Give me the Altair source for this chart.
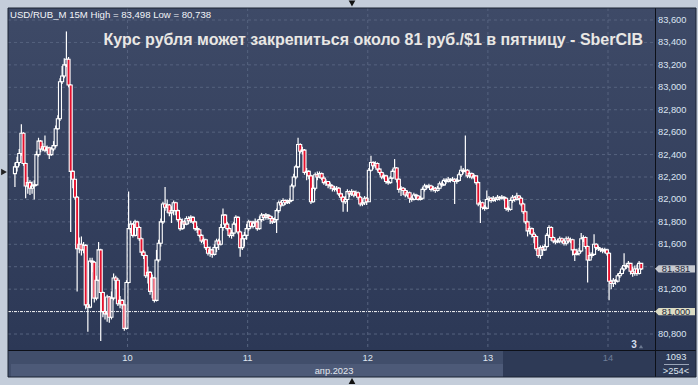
import altair as alt
import numpy as np
import pandas as pd

# ---------------- data ----------------
day_labels = ["10", "11", "12", "13", "14"]
day_starts = [52.5, 108.5, 164.5, 220.5, 276.5]   # candle-index boundaries of the days
month_label = "апр.2023"
price_ticks = [80.8, 81.0, 81.2, 81.4, 81.6, 81.8, 82.0, 82.2, 82.4, 82.6, 82.8, 83.0, 83.2, 83.4, 83.6]
level_price = 81.0
first_open = 82.23
bars_total = "1093"
bars_visible = ">254<"

close_d07 = [82.29, 82.33, 82.41, 82.59, 82.32, 82.12, 82.15, 82.10, 82.12, 82.13, 82.40, 82.52, 82.45, 82.47, 82.44, 82.46, 82.40, 82.45, 82.48, 82.63, 82.72, 83.05, 83.10, 83.20, 83.25, 83.02, 82.25, 82.18, 82.02, 81.56, 81.60, 81.55, 81.59, 81.06, 81.04, 81.45, 81.44, 81.12, 81.28, 81.55, 81.17, 81.00, 80.98, 81.13, 80.95, 81.12, 81.30, 81.28, 81.07, 81.10, 81.06, 80.85, 81.26]
high_d07 = [82.33, 82.38, 82.45, 82.67, 82.60, 82.33, 82.20, 82.17, 82.16, 82.17, 82.43, 82.55, 82.53, 82.50, 82.57, 82.48, 82.47, 82.47, 82.52, 82.66, 82.75, 83.08, 83.19, 83.26, 83.498, 83.27, 83.03, 82.26, 82.18, 82.03, 81.66, 81.67, 81.62, 81.60, 81.08, 81.48, 81.48, 81.45, 81.32, 81.62, 81.56, 81.18, 81.10, 81.15, 81.14, 81.18, 81.34, 81.32, 81.30, 81.14, 81.11, 81.07, 81.28]
low_d07 = [82.11, 82.25, 82.30, 82.39, 82.30, 82.01, 82.05, 82.04, 82.05, 82.00, 82.12, 82.38, 82.42, 82.43, 82.42, 82.41, 82.36, 82.39, 82.43, 82.46, 82.62, 82.70, 83.03, 83.08, 83.18, 83.00, 81.71, 82.10, 82.00, 81.18, 81.52, 81.50, 81.52, 81.02, 80.82, 81.03, 81.35, 81.08, 81.10, 81.27, 80.738, 80.95, 80.93, 80.91, 80.90, 80.93, 81.10, 81.20, 81.05, 81.03, 81.02, 80.83, 80.84]

close_d10 = [81.74, 81.78, 81.68, 81.80, 81.75, 81.65, 81.53, 81.50, 81.32, 81.35, 81.18, 81.30, 81.10, 81.46, 81.61, 81.80, 81.96, 81.93, 81.95, 81.88, 81.90, 81.97, 81.90, 81.82, 81.74, 81.80, 81.78, 81.83, 81.81, 81.84, 81.80, 81.74, 81.73, 81.68, 81.63, 81.64, 81.57, 81.52, 81.55, 81.51, 81.57, 81.63, 81.60, 81.75, 81.86, 81.78, 81.74, 81.68, 81.70, 81.78, 81.84, 81.71, 81.57, 81.65, 81.68, 81.74]
high_d10 = [82.07, 81.81, 81.79, 81.82, 81.81, 81.76, 81.66, 81.55, 81.51, 81.40, 81.36, 81.33, 81.31, 81.55, 81.64, 81.83, 81.98, 82.11, 82.00, 81.96, 81.94, 81.99, 81.98, 81.91, 81.84, 81.83, 81.82, 81.85, 81.85, 81.86, 81.85, 81.81, 81.76, 81.74, 81.69, 81.66, 81.65, 81.58, 81.58, 81.56, 81.60, 81.65, 81.65, 81.78, 81.92, 81.87, 81.80, 81.75, 81.73, 81.80, 81.86, 81.85, 81.72, 81.68, 81.71, 81.78]
low_d10 = [81.25, 81.70, 81.66, 81.67, 81.72, 81.63, 81.50, 81.47, 81.30, 81.25, 81.15, 81.12, 81.08, 81.09, 81.44, 81.58, 81.78, 81.90, 81.88, 81.85, 81.79, 81.86, 81.86, 81.80, 81.72, 81.73, 81.74, 81.77, 81.78, 81.79, 81.78, 81.72, 81.70, 81.66, 81.61, 81.60, 81.55, 81.50, 81.49, 81.48, 81.50, 81.53, 81.55, 81.59, 81.72, 81.76, 81.72, 81.66, 81.65, 81.67, 81.76, 81.69, 81.49, 81.55, 81.58, 81.64]

close_d11 = [81.80, 81.76, 81.79, 81.80, 81.74, 81.82, 81.86, 81.84, 81.86, 81.85, 81.83, 81.80, 81.82, 81.90, 81.97, 81.95, 81.99, 81.97, 81.98, 81.99, 82.12, 82.20, 82.29, 82.49, 82.43, 82.44, 82.24, 82.25, 82.21, 81.98, 82.10, 82.22, 82.20, 82.23, 82.19, 82.15, 82.16, 82.13, 82.12, 82.10, 82.09, 82.10, 82.05, 82.02, 81.98, 82.00, 82.07, 82.05, 82.07, 82.04, 82.06, 82.02, 81.96, 81.97, 82.01, 81.98]
high_d11 = [81.82, 81.81, 81.81, 81.83, 81.82, 81.85, 81.88, 81.87, 81.88, 81.87, 81.86, 81.85, 81.84, 81.92, 81.99, 81.99, 82.01, 82.00, 82.00, 82.01, 82.14, 82.23, 82.31, 82.55, 82.50, 82.47, 82.45, 82.28, 82.26, 82.22, 82.13, 82.24, 82.25, 82.25, 82.24, 82.21, 82.18, 82.16, 82.15, 82.13, 82.12, 82.12, 82.11, 82.06, 82.03, 82.03, 82.09, 82.08, 82.09, 82.08, 82.08, 82.07, 82.03, 82.00, 82.03, 82.02]
low_d11 = [81.72, 81.74, 81.74, 81.76, 81.72, 81.73, 81.80, 81.81, 81.82, 81.82, 81.78, 81.78, 81.79, 81.70, 81.88, 81.93, 81.94, 81.95, 81.96, 81.96, 81.98, 82.10, 82.18, 82.28, 82.41, 82.40, 82.22, 82.17, 82.18, 81.96, 81.97, 82.08, 82.17, 82.19, 82.17, 82.13, 82.12, 82.10, 82.09, 82.07, 82.07, 82.07, 82.03, 81.99, 81.89, 81.96, 81.89, 82.02, 82.03, 82.02, 82.03, 82.00, 81.94, 81.94, 81.95, 81.95]

close_d12 = [82.26, 82.33, 82.30, 82.32, 82.27, 82.24, 82.20, 82.21, 82.16, 82.15, 82.19, 82.25, 82.28, 82.18, 82.09, 82.10, 82.08, 82.04, 82.06, 82.01, 82.00, 82.04, 82.03, 82.00, 82.01, 82.09, 82.12, 82.11, 82.12, 82.09, 82.10, 82.08, 82.10, 82.14, 82.13, 82.17, 82.16, 82.18, 82.17, 82.18, 82.16, 82.17, 82.22, 82.26, 82.25, 82.26, 82.21, 82.23, 82.20, 82.21, 82.15, 81.96, 81.97, 81.93, 81.92, 82.00]
high_d12 = [82.28, 82.39, 82.34, 82.34, 82.33, 82.28, 82.25, 82.23, 82.22, 82.18, 82.21, 82.27, 82.36, 82.29, 82.19, 82.12, 82.11, 82.10, 82.08, 82.07, 82.03, 82.06, 82.05, 82.04, 82.03, 82.11, 82.14, 82.13, 82.14, 82.13, 82.12, 82.11, 82.12, 82.16, 82.16, 82.19, 82.19, 82.20, 82.19, 82.20, 82.19, 82.19, 82.24, 82.30, 82.28, 82.57, 82.27, 82.25, 82.24, 82.23, 82.21, 82.16, 81.99, 81.98, 81.95, 82.08]
low_d12 = [81.98, 82.25, 82.27, 82.28, 82.25, 82.22, 82.18, 82.18, 82.14, 82.13, 82.14, 82.18, 82.24, 82.15, 82.06, 82.03, 82.04, 82.02, 82.02, 81.97, 81.98, 81.99, 82.00, 81.99, 81.99, 82.00, 82.07, 82.09, 82.10, 82.07, 82.07, 82.06, 82.07, 82.09, 82.11, 82.12, 82.14, 82.15, 82.15, 82.16, 81.96, 82.14, 82.16, 82.20, 82.23, 82.24, 82.19, 82.19, 82.18, 82.18, 82.13, 81.94, 81.79, 81.91, 81.90, 81.91]

close_d13 = [82.01, 81.99, 82.01, 82.00, 82.02, 82.01, 82.02, 82.01, 81.92, 81.91, 81.99, 82.02, 82.00, 82.03, 82.01, 81.96, 81.89, 81.80, 81.72, 81.74, 81.69, 81.67, 81.56, 81.50, 81.57, 81.55, 81.58, 81.68, 81.75, 81.66, 81.63, 81.62, 81.63, 81.65, 81.63, 81.61, 81.65, 81.63, 81.64, 81.55, 81.51, 81.52, 81.54, 81.65, 81.66, 81.58, 81.46, 81.50, 81.51, 81.60, 81.57, 81.56, 81.55, 81.54, 81.55, 81.52]
high_d13 = [82.03, 82.02, 82.03, 82.02, 82.04, 82.03, 82.04, 82.03, 82.02, 81.94, 82.01, 82.04, 82.03, 82.06, 82.04, 82.02, 81.97, 81.90, 81.81, 81.76, 81.75, 81.71, 81.68, 81.57, 81.59, 81.59, 81.60, 81.70, 81.77, 81.76, 81.67, 81.65, 81.65, 81.67, 81.66, 81.64, 81.67, 81.67, 81.66, 81.65, 81.56, 81.56, 81.57, 81.70, 81.68, 81.67, 81.59, 81.53, 81.53, 81.69, 81.61, 81.59, 81.57, 81.57, 81.57, 81.56]
low_d13 = [81.98, 81.97, 81.98, 81.98, 81.99, 81.99, 82.00, 81.99, 81.90, 81.89, 81.90, 81.97, 81.98, 81.99, 81.99, 81.94, 81.87, 81.78, 81.67, 81.69, 81.66, 81.61, 81.54, 81.48, 81.47, 81.50, 81.54, 81.57, 81.66, 81.63, 81.61, 81.60, 81.61, 81.61, 81.61, 81.59, 81.59, 81.61, 81.61, 81.50, 81.45, 81.50, 81.50, 81.53, 81.62, 81.56, 81.26, 81.45, 81.48, 81.50, 81.55, 81.54, 81.53, 81.52, 81.52, 81.50]

close_d14 = [81.27, 81.25, 81.28, 81.27, 81.32, 81.34, 81.38, 81.41, 81.40, 81.43, 81.36, 81.34, 81.38, 81.34, 81.43, 81.381]
high_d14 = [81.53, 81.28, 81.30, 81.29, 81.34, 81.36, 81.40, 81.52, 81.43, 81.45, 81.43, 81.40, 81.41, 81.42, 81.45, 81.43]
low_d14 = [81.10, 81.20, 81.22, 81.24, 81.26, 81.30, 81.33, 81.36, 81.38, 81.39, 81.33, 81.31, 81.32, 81.32, 81.33, 81.37]

closes = close_d07 + close_d10 + close_d11 + close_d12 + close_d13 + close_d14
highs = high_d07 + high_d10 + high_d11 + high_d12 + high_d13 + high_d14
lows = low_d07 + low_d10 + low_d11 + low_d12 + low_d13 + low_d14
opens = [first_open] + closes[:-1]

df = pd.DataFrame({"i": np.arange(len(closes)), "open": opens, "close": closes,
                   "high": highs, "low": lows})
df["top"] = df[["open", "close"]].max(axis=1)
df["bot"] = df[["open", "close"]].min(axis=1)
df["high"] = np.maximum(df["high"], df["top"])
df["low"] = np.minimum(df["low"], df["bot"])
last_price = closes[-1]


def ru(v):
    return f"{v:.3f}".replace(".", ",")


header = f"USD/RUB_M 15M High = {ru(max(highs))} Low = {ru(min(lows))}"
title = "Курс рубля может закрепиться около 81 руб./$1 в пятницу - SberCIB"

# ---------------- styling ----------------
FONT = "Liberation Sans"
W, H = 647, 342
RIGHT_W = 40
STRIP_H = 27
RED = "#e5102d"
GRID = "#56637f"

xs = alt.Scale(domain=[-0.9, 296.08], nice=False, zero=False)
ys = alt.Scale(domain=[80.6575, 83.707], nice=False, zero=False)

one = pd.DataFrame({"a": [0]})

flag_vals = [last_price, level_price]
axis_vals = [v for v in price_ticks if all(abs(v - f) > 0.08 for f in flag_vals)]
ylab_df = pd.DataFrame({"v": axis_vals, "lbl": [ru(v) for v in axis_vals]})
xlab_df = pd.DataFrame({"v": day_starts, "lbl": day_labels,
                        "c": ["#dfe6f0"] * (len(day_labels) - 1) + ["#6f7d98"]})


def vrect(x, x2, y, y2, **kw):
    return alt.Chart(one).mark_rect(**kw).encode(
        x=alt.value(x), x2=alt.value(x2), y=alt.value(y), y2=alt.value(y2))


bg = vrect(0, W + RIGHT_W + 1, 0, H, color=alt.Gradient(
    gradient="linear",
    stops=[alt.GradientStop(color="#3e4a67", offset=0),
           alt.GradientStop(color="#2c3856", offset=1)],
    x1=0, x2=0, y1=0, y2=1))

strip_a = vrect(0, 495, H, H + STRIP_H, color="#414e6b")
strip_b = vrect(3, 495, H + 14, H + STRIP_H, color="#4d5a78")
strip_c = vrect(495, W, H, H + STRIP_H, color="#2e3a56")
strip_d = vrect(W, W + RIGHT_W + 1, H, H + STRIP_H, color="#2e3a56")

hgrid = alt.Chart(pd.DataFrame({"v": price_ticks})).mark_rule(
    color=GRID, strokeDash=[3, 3], strokeWidth=1).encode(
    y=alt.Y("v:Q", scale=ys, axis=None), x=alt.value(0), x2=alt.value(W))
vgrid = alt.Chart(pd.DataFrame({"v": day_starts})).mark_rule(
    color=GRID, strokeDash=[3, 3], strokeWidth=1).encode(
    x=alt.X("v:Q", scale=xs, axis=None), y=alt.value(0), y2=alt.value(H))

level = alt.Chart(pd.DataFrame({"v": [level_price]})).mark_rule(
    color="#f4f4f4", strokeDash=[3, 1, 1, 1], strokeWidth=1).encode(
    y=alt.Y("v:Q", scale=ys, axis=None), x=alt.value(0), x2=alt.value(W))

base = alt.Chart(df)
wick_hi = base.mark_rule(color="white", strokeWidth=1.2).encode(
    x=alt.X("i:Q", scale=xs, axis=None), y=alt.Y("high:Q", scale=ys, axis=None), y2="top:Q")
wick_lo = base.mark_rule(color="white", strokeWidth=1.2).encode(
    x=alt.X("i:Q", scale=xs, axis=None), y=alt.Y("bot:Q", scale=ys, axis=None), y2="low:Q")
bodies = base.mark_bar(size=3, stroke="white", strokeWidth=1.1).encode(
    x=alt.X("i:Q", scale=xs, axis=None),
    y=alt.Y("open:Q", scale=ys, axis=None),
    y2="close:Q",
    fill=alt.condition("datum.close < datum.open", alt.value(RED), alt.value("transparent")))

hline = alt.Chart(one).mark_rule(color="#0d1018", strokeWidth=1).encode(
    x=alt.value(0), x2=alt.value(W + RIGHT_W + 1), y=alt.value(H + 0.5))
vline = alt.Chart(one).mark_rule(color="#0d1018", strokeWidth=1).encode(
    x=alt.value(W + 0.5), y=alt.value(0), y2=alt.value(H + STRIP_H))
frame = vrect(0, W + RIGHT_W + 1, 0, H + STRIP_H, fill="transparent",
              stroke="#1b2233", strokeWidth=1)

# price-axis labels and day labels, placed by the shared scales
ylabels = alt.Chart(ylab_df).mark_text(font=FONT, fontSize=9.3, color="#dbe4f2",
                                       align="left", baseline="middle").encode(
    x=alt.value(W + 3), y=alt.Y("v:Q", scale=ys, axis=None), text="lbl:N")
xlabels = alt.Chart(xlab_df).mark_text(font=FONT, fontSize=9.3,
                                       align="center", baseline="middle").encode(
    x=alt.X("v:Q", scale=xs, axis=None), y=alt.value(H + 8), text="lbl:N",
    color=alt.Color("c:N", scale=None))

FLAG = "M -1 0 L -0.82 -0.18 L 1 -0.18 L 1 0.18 L -0.82 0.18 Z"
flags_df = pd.DataFrame({"v": flag_vals, "lbl": [ru(v) for v in flag_vals],
                         "fill": ["#c6c9d0", "#dcdcc4"]})
flags = alt.Chart(flags_df).mark_point(shape=FLAG, size=1600, filled=True, opacity=1,
                                       strokeWidth=0).encode(
    x=alt.value(W + 20), y=alt.Y("v:Q", scale=ys, axis=None),
    fill=alt.Fill("fill:N", scale=None))
flag_txt = alt.Chart(flags_df).mark_text(font=FONT, fontSize=9.3, color="#1d263a",
                                         align="center", baseline="middle").encode(
    x=alt.value(W + 21), y=alt.Y("v:Q", scale=ys, axis=None), text="lbl:N")


def label(text, x, y, **kw):
    return alt.Chart(one).mark_text(text=text, **kw).encode(x=alt.value(x), y=alt.value(y))


t_header = label(header, 2, 9.5, font=FONT, fontSize=9.6, color="#f2f4f8",
                 align="left", baseline="alphabetic")
t_title = label(title, 635, 37, font=FONT, fontSize=16, fontWeight="bold",
                color="#e9e7e4", align="right", baseline="alphabetic")
t_month = label(month_label, 326, H + 21, font=FONT, fontSize=9.3, color="#e2e7ef",
                align="center", baseline="middle")
t_total = label(bars_total, W + 21, H + 7, font=FONT, fontSize=9.3, color="#dfe6f0",
                align="center", baseline="middle")
t_vis = label(bars_visible, W + 21, H + 21, font=FONT, fontSize=9.3, color="#dfe6f0",
              align="center", baseline="middle")
sep = alt.Chart(one).mark_rule(color="#9aa5b8", strokeWidth=1).encode(
    x=alt.value(W + 9), x2=alt.value(W + 34), y=alt.value(H + 14.5))
t_three = label("3", 626, 337, font=FONT, fontSize=10, fontWeight="bold", color="#d4dced",
                align="center", baseline="middle")


def tri(shape, x, y, color, size):
    return alt.Chart(one).mark_point(shape=shape, filled=True, size=size, color=color,
                                      opacity=1, strokeWidth=0).encode(
        x=alt.value(x), y=alt.value(y))


tri_small = tri("triangle-up", 633, 338.5, "#6b7891", 18)
tri_top = tri("triangle-down", 344, -4.5, "#111111", 45)
tri_bot = tri("triangle-up", 344, H + STRIP_H + 4, "#111111", 45)
tri_left = tri("triangle-right", -4, 164, "#222222", 45)

chart = alt.layer(
    bg, strip_a, strip_b, strip_c, strip_d, hgrid, vgrid, level,
    wick_hi, wick_lo, bodies, hline, vline, frame, ylabels, xlabels, flags, flag_txt,
    t_header, t_title, t_month, t_total, t_vis, sep, t_three, tri_small,
    tri_top, tri_bot, tri_left,
).properties(
    width=W, height=H,
    padding={"left": 8, "top": 8, "right": 43, "bottom": 35},
    autosize=alt.AutoSizeParams(type="none"),
    background="#c4cdda",
).configure_view(stroke=None)

chart.save("out.html", embed_options={"renderer": "svg", "actions": False})
